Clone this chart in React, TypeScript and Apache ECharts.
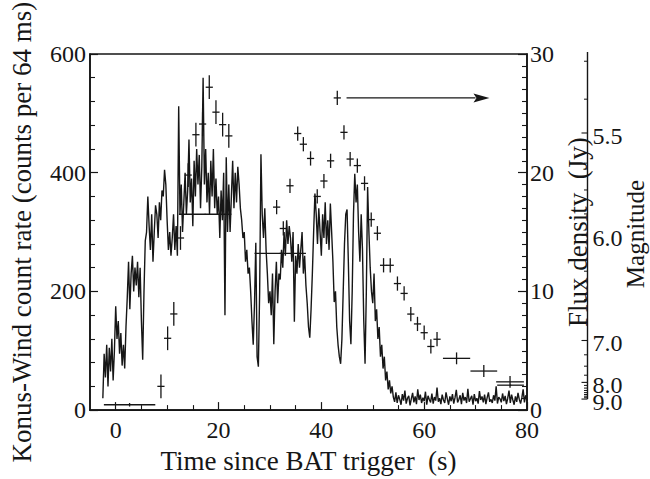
import React, { useEffect, useRef } from "react";
import * as echarts from "echarts";

// ---------- data ----------
const X_MIN = -5;
const X_MAX = 80;
const X_MAJOR_TICKS = [0, 20, 40, 60, 80];
const X_MINOR_TICKS = [5, 10, 15, 25, 30, 35, 45, 50, 55, 65, 70, 75];

const COUNT_T0 = -2.5;
const COUNT_STEP = 0.25;
const COUNTS = [
  20, 95, 55, 110, 40, 105, 65, 120, 50, 100,
  175, 120, 150, 95, 130, 75, 110, 70,
  140, 190, 250, 170, 230, 260, 200, 240,
  210, 250, 190, 240, 150, 85, 200, 285,
  300, 360, 310, 270, 330, 250, 300, 345,
  330, 290, 350, 320, 370, 360, 405, 380,
  320, 270, 300, 260, 290, 330, 270, 310,
  260, 512, 330, 380, 300, 350, 400, 330,
  370, 456, 350, 390, 310, 420, 360, 440,
  380, 430, 340, 410, 560, 380, 440, 350,
  400, 330, 420, 360, 440, 340, 390, 330,
  360, 290, 370, 320, 400, 160, 426, 300,
  380, 300, 360, 420, 340, 400, 350, 410,
  380, 340, 320, 290, 300, 250, 270, 230,
  240, 200, 150, 110, 180, 282, 90, 73,
  200, 431, 330, 290, 340, 270, 230, 180,
  200, 160, 230, 111, 200, 250, 180, 230,
  220, 270, 240, 300, 260, 320, 280, 310,
  290, 250, 300, 149, 260, 230, 280, 240,
  270, 300, 230, 260, 210, 180, 140, 122,
  170, 230, 300, 365, 330, 280, 340, 300,
  260, 330, 290, 350, 280, 320, 270, 348,
  300, 250, 182, 200, 140, 110, 90, 78,
  120, 200, 280, 330, 338, 250, 150, 111,
  200, 330, 398, 350, 380, 300, 250, 330,
  270, 150, 78, 200, 376, 300, 240, 200,
  180, 230, 150, 170, 120, 140, 90, 110,
  70, 90, 50, 65, 35, 50, 28, 40,
  22, 14, 30, 12, 25, 18, 9, 27, 16, 33, 11, 20, 24, 8, 19,
  29, 13, 23, 10, 35, 17, 26, 12, 21, 15, 31, 9, 24, 18, 13,
  28, 11, 22, 16, 38, 14, 20, 10, 26, 17, 12, 30, 19, 9, 23,
  15, 27, 11, 21, 34, 13, 18, 25, 10, 29, 16, 22, 12, 36, 14,
  19, 24, 9, 27, 15, 20, 11, 32, 17, 23, 13, 26, 10, 21, 30,
  14, 18, 12, 25, 16, 40, 11, 22, 19, 13, 28, 15, 24, 10, 20,
  33, 12, 26, 17, 9, 23, 14, 29, 18, 11, 21, 35, 13, 25, 16,
];

// Optical flux density points: time (s), flux (Jy), half-width in time (s), half-height in flux (Jy)
const FLUX_TIME = [
  2.7, 8.8, 10.1, 11.3, 12.6, 14.1, 15.6, 16.9, 18.2, 19.5, 20.8, 22.0,
  17.4, 32.0,
  31.3, 32.6, 33.9, 35.4, 36.5, 37.9, 39.2, 40.5, 41.8, 43.1, 44.4, 45.6,
  47.0, 48.4, 49.7, 50.9, 52.1, 53.4, 54.8, 56.1, 57.4, 58.7, 60.0, 61.3,
  62.5, 66.3, 71.6, 76.7, 76.8,
];
const FLUX_JY = [
  0.45, 2.0, 6.05, 8.1, 14.5, 19.8, 23.2, 24.1, 27.2, 25.1, 24.05, 23.1,
  16.5, 13.2,
  17.1, 15.3, 18.9, 23.3, 22.4, 21.2, 18.0, 19.3, 21.0, 26.3, 23.4, 21.15,
  20.6, 19.1, 16.05, 14.9, 12.2, 12.2, 10.66, 9.83, 8.09, 7.26, 6.52, 5.36,
  5.97, 4.36, 3.29, 2.38, 2.1,
];
const FLUX_TIME_ERR = [
  5.0, 0.7, 0.7, 0.7, 0.7, 0.7, 0.7, 0.7, 0.7, 0.7, 0.7, 0.7,
  5.1, 5.0,
  0.7, 0.7, 0.7, 0.7, 0.7, 0.7, 0.7, 0.7, 0.7, 0.7, 0.7, 0.7,
  0.7, 0.7, 0.7, 0.7, 0.7, 0.7, 0.7, 0.7, 0.7, 0.7, 0.7, 0.7,
  0.7, 2.65, 2.6, 2.7, 2.6,
];
const FLUX_ERR = [
  0.15, 1.0, 1.0, 1.0, 1.0, 1.0, 1.0, 1.0, 1.0, 1.0, 1.0, 1.0,
  0.05, 0.05,
  0.6, 0.6, 0.6, 0.6, 0.6, 0.6, 0.6, 0.6, 0.6, 0.6, 0.6, 0.6,
  0.6, 0.6, 0.6, 0.6, 0.6, 0.6, 0.6, 0.6, 0.6, 0.6, 0.6, 0.6,
  0.6, 0.5, 0.5, 0.5, 0.05,
];

// Arrow: from (t start, flux) to (t end, flux)
const ARROW = [[44.9, 72.7, 26.3]];

// Magnitude axis (m = -2.5 log10(F / F0))
const MAG_ZERO_POINT_JY = 3700;
const MAG_LABELS = [5.5, 6.0, 7.0, 8.0, 9.0];
const MAG_MINOR = [5.25, 5.375, 5.625, 5.75, 5.875, 6.25, 6.5, 6.75, 7.25, 7.5, 7.75,
  8.125, 8.25, 8.375, 8.5, 8.625, 8.75, 8.875];

const FONT = "Liberation Serif, Times New Roman, DejaVu Serif, serif";
const INK = "#161616";

function fluxFromMag(m: number): number {
  return MAG_ZERO_POINT_JY * Math.pow(10, -m / 2.5);
}

export default function App() {
  const ref = useRef<HTMLDivElement>(null);

  useEffect(() => {
    if (!ref.current) return;
    const chart = echarts.init(ref.current, undefined, { renderer: "svg" });

    const countData = COUNTS.map((c, i) => [COUNT_T0 + i * COUNT_STEP, c]);
    const fluxData = FLUX_TIME.map((t, i) => [t, FLUX_JY[i], FLUX_TIME_ERR[i], FLUX_ERR[i]]);

    const option: any = {
      animation: false,
      backgroundColor: "#ffffff",
      textStyle: { fontFamily: FONT },
      grid: {
        left: 86,
        top: 54,
        width: 441,
        height: 363,
        show: true,
        borderColor: INK,
        borderWidth: 1.6,
        backgroundColor: "transparent",
      },
      xAxis: [
        {
          type: "value",
          min: X_MIN,
          max: X_MAX,
          position: "bottom",
          axisLine: { show: true, onZero: false, lineStyle: { color: INK, width: 1.6 } },
          axisTick: {
            show: true,
            inside: true,
            length: 8,
            customValues: X_MAJOR_TICKS,
            lineStyle: { color: INK, width: 1.2 },
          },
          axisLabel: {
            show: true,
            customValues: X_MAJOR_TICKS,
            fontFamily: FONT,
            fontSize: 24,
            color: INK,
            margin: 8,
          },
          splitLine: { show: false },
          name: "Time since BAT trigger  (s)",
          nameLocation: "middle",
          nameGap: 33,
          nameTextStyle: { fontFamily: FONT, fontSize: 27, color: INK },
        },
        {
          type: "value",
          min: X_MIN,
          max: X_MAX,
          position: "bottom",
          axisLine: { show: false, onZero: false },
          axisTick: {
            show: true,
            inside: true,
            length: 5,
            customValues: X_MINOR_TICKS,
            lineStyle: { color: INK, width: 1.1 },
          },
          axisLabel: { show: false },
          splitLine: { show: false },
        },
      ],
      yAxis: [
        {
          type: "value",
          min: 0,
          max: 600,
          interval: 200,
          position: "left",
          axisLine: { show: true, onZero: false, lineStyle: { color: INK, width: 1.6 } },
          axisTick: { show: true, inside: true, length: 8, lineStyle: { color: INK, width: 1.2 } },
          minorTick: { show: true, splitNumber: 5, length: 5, lineStyle: { color: INK, width: 1.1 } },
          axisLabel: { fontFamily: FONT, fontSize: 24, color: INK, margin: 4 },
          splitLine: { show: false },
          name: "Konus-Wind count rate (counts per 64 ms)",
          nameLocation: "middle",
          nameRotate: 90,
          nameGap: 55,
          nameTextStyle: { fontFamily: FONT, fontSize: 27, color: INK },
        },
        {
          type: "value",
          min: 0,
          max: 30,
          interval: 10,
          position: "right",
          axisLine: { show: true, onZero: false, lineStyle: { color: INK, width: 1.6 } },
          axisTick: { show: true, inside: true, length: 9, lineStyle: { color: INK, width: 1.2 } },
          minorTick: { show: true, splitNumber: 10, length: 5, lineStyle: { color: INK, width: 1.1 } },
          axisLabel: { fontFamily: FONT, fontSize: 24, color: INK, margin: 3 },
          splitLine: { show: false },
          name: "Flux density  (Jy)",
          nameLocation: "middle",
          nameRotate: 90,
          nameGap: 24,
          nameTextStyle: { fontFamily: FONT, fontSize: 27, color: INK },
        },
      ],
      graphic: [
        {
          type: "text",
          x: 635,
          y: 234,
          rotation: Math.PI / 2,
          style: {
            text: "Magnitude",
            font: `25px ${FONT}`,
            fill: INK,
            align: "center",
            verticalAlign: "middle",
            textAlign: "center",
            textVerticalAlign: "middle",
          },
        },
      ],
      series: [
        {
          name: "Konus-Wind",
          type: "line",
          xAxisIndex: 0,
          yAxisIndex: 0,
          data: countData,
          showSymbol: false,
          symbol: "none",
          lineStyle: { color: INK, width: 1.4 },
          z: 2,
        },
        {
          name: "Flux",
          type: "custom",
          xAxisIndex: 0,
          yAxisIndex: 1,
          data: fluxData,
          encode: { x: 0, y: 1 },
          z: 3,
          renderItem: (_params: any, api: any) => {
            const t = api.value(0);
            const f = api.value(1);
            const xe = api.value(2);
            const ye = api.value(3);
            const l = api.coord([t - xe, f]);
            const r = api.coord([t + xe, f]);
            const b = api.coord([t, f - ye]);
            const tp = api.coord([t, f + ye]);
            const style = { stroke: INK, lineWidth: 1.3 };
            return {
              type: "group",
              children: [
                { type: "line", shape: { x1: l[0], y1: l[1], x2: r[0], y2: r[1] }, style },
                { type: "line", shape: { x1: b[0], y1: b[1], x2: tp[0], y2: tp[1] }, style },
              ],
            };
          },
        },
        {
          name: "Arrow",
          type: "custom",
          xAxisIndex: 0,
          yAxisIndex: 1,
          data: ARROW,
          encode: { x: [0, 1], y: 2 },
          z: 3,
          renderItem: (_params: any, api: any) => {
            const s = api.coord([api.value(0), api.value(2)]);
            const e = api.coord([api.value(1), api.value(2)]);
            const headLen = 16;
            const headHalf = 4.5;
            return {
              type: "group",
              children: [
                {
                  type: "line",
                  shape: { x1: s[0], y1: s[1], x2: e[0] - headLen + 2, y2: e[1] },
                  style: { stroke: INK, lineWidth: 1.4 },
                },
                {
                  type: "polygon",
                  shape: {
                    points: [
                      [e[0], e[1]],
                      [e[0] - headLen, e[1] - headHalf],
                      [e[0] - headLen + 3, e[1]],
                      [e[0] - headLen, e[1] + headHalf],
                    ],
                  },
                  style: { fill: INK },
                },
              ],
            };
          },
        },
        {
          name: "MagnitudeAxis",
          type: "custom",
          xAxisIndex: 0,
          yAxisIndex: 1,
          data: [[X_MAX, 0]],
          encode: { x: 0, y: 1 },
          clip: false,
          silent: true,
          z: 3,
          renderItem: (_params: any, api: any) => {
            const rightX = api.coord([X_MAX, 0])[0];
            const ax = rightX + 60.5;
            const yOf = (m: number) => api.coord([X_MAX, fluxFromMag(m)])[1];
            const topY = api.coord([X_MAX, 30])[1] - 2;
            const botY = yOf(9.0);
            const children: any[] = [
              { type: "line", shape: { x1: ax, y1: topY, x2: ax, y2: botY }, style: { stroke: INK, lineWidth: 1.4 } },
            ];
            MAG_LABELS.forEach((m) => {
              const y = yOf(m);
              children.push({ type: "line", shape: { x1: ax - 6, y1: y, x2: ax, y2: y }, style: { stroke: INK, lineWidth: 1.1 } });
              children.push({
                type: "text",
                style: {
                  x: ax + 5,
                  y: y + 3,
                  text: m.toFixed(1),
                  font: `24px ${FONT}`,
                  fill: INK,
                  align: "left",
                  verticalAlign: "middle",
                },
              });
            });
            MAG_MINOR.forEach((m) => {
              const y = yOf(m);
              children.push({ type: "line", shape: { x1: ax - 3.5, y1: y, x2: ax, y2: y }, style: { stroke: INK, lineWidth: 1 } });
            });
            return { type: "group", children };
          },
        },
      ],
    };

    chart.setOption(option);
    return () => {
      chart.dispose();
    };
  }, []);

  return (
    <div
      ref={ref}
      style={{ position: "fixed", left: 0, top: 0, width: 650, height: 479, background: "#fff" }}
    />
  );
}
